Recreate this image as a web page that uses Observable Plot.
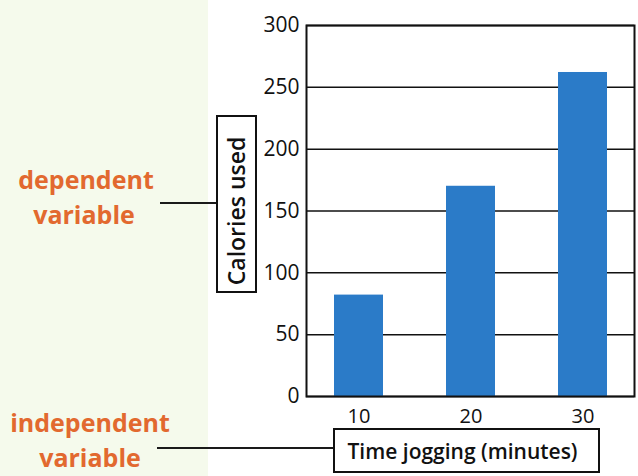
<!DOCTYPE html>
<html>
<head>
<meta charset="utf-8">
<script src="https://cdn.jsdelivr.net/npm/d3@7"></script>
<script src="https://cdn.jsdelivr.net/npm/@observablehq/plot@0.6"></script>
<style>
  html, body { margin: 0; padding: 0; background: #ffffff; }
  #wrap { position: relative; width: 638px; height: 476px; overflow: hidden; background: #ffffff; font-family: "Open Sans", sans-serif; }
  #panel { position: absolute; left: 0; top: 0; width: 208px; height: 476px; background: #f5faec; }
  #chart { position: absolute; left: 0; top: 0; }
  .note { position: absolute; color: #e2692f; font-weight: 700; font-size: 25px; line-height: 1; text-align: center; white-space: nowrap; }
  .lead { position: absolute; height: 2px; background: #1a1a1a; }
  .box { position: absolute; border: 2px solid #111; display: flex; align-items: center; justify-content: center; color: #111; font-weight: 600; white-space: nowrap; background: #fff; }
</style>
</head>
<body>
<div id="wrap">
  <div id="panel"></div>
  <div id="chart"></div>
  <div class="note" style="left:6px; width:160px; top:167px;">dependent</div>
  <div class="note" style="left:4px; width:160px; top:202px;">variable</div>
  <div class="note" style="left:10px; width:160px; top:410px;">independent</div>
  <div class="note" style="left:10px; width:160px; top:445px;">variable</div>
  <div class="lead" style="left:160px; top:202px; width:57px;"></div>
  <div class="lead" style="left:157px; top:447px; width:177px;"></div>
  <div class="box" style="left:216px; top:115px; width:37px; height:174px;"><span id="ylab" style="display:inline-block; transform: rotate(-90deg) translateX(-7px); font-size:23px;"></span></div>
  <div class="box" style="left:333px; top:428px; width:263px; height:41px;"><span id="xlab" style="font-size:21px; margin-right:8px;"></span></div>
</div>
<script>
const times = [10, 20, 30];
const calories = [82, 170, 262];
const yTicks = [0, 50, 100, 150, 200, 250, 300];
const yLabel = "Calories used";
const xLabel = "Time jogging (minutes)";

const data = times.map((t, i) => ({time: t, cal: calories[i]}));

document.getElementById("ylab").textContent = yLabel;
document.getElementById("xlab").textContent = xLabel;

const chart = Plot.plot({
  width: 638,
  height: 476,
  marginLeft: 306,
  marginRight: 4,
  marginTop: 25,
  marginBottom: 80,
  style: {background: "transparent", fontFamily: "'Open Sans', sans-serif", fontSize: "20px", color: "#111"},
  x: {type: "band", domain: times, paddingInner: 0.5625, paddingOuter: 0.245, label: null},
  y: {domain: [0, 300], label: null},
  marks: [
    Plot.ruleY(yTicks, {stroke: "#111", strokeWidth: 1.5}),
    Plot.barY(data, {x: "time", y: "cal", fill: "#2b7bc8"}),
    Plot.frame({stroke: "#111", strokeWidth: 2}),
    Plot.axisY(yTicks, {tickSize: 0, tickPadding: 7, label: null, fontSize: 21}),
    Plot.axisX(times, {tickSize: 0, tickPadding: 12, label: null, fontSize: 20})
  ]
});
document.getElementById("chart").appendChild(chart);
</script>
</body>
</html>
